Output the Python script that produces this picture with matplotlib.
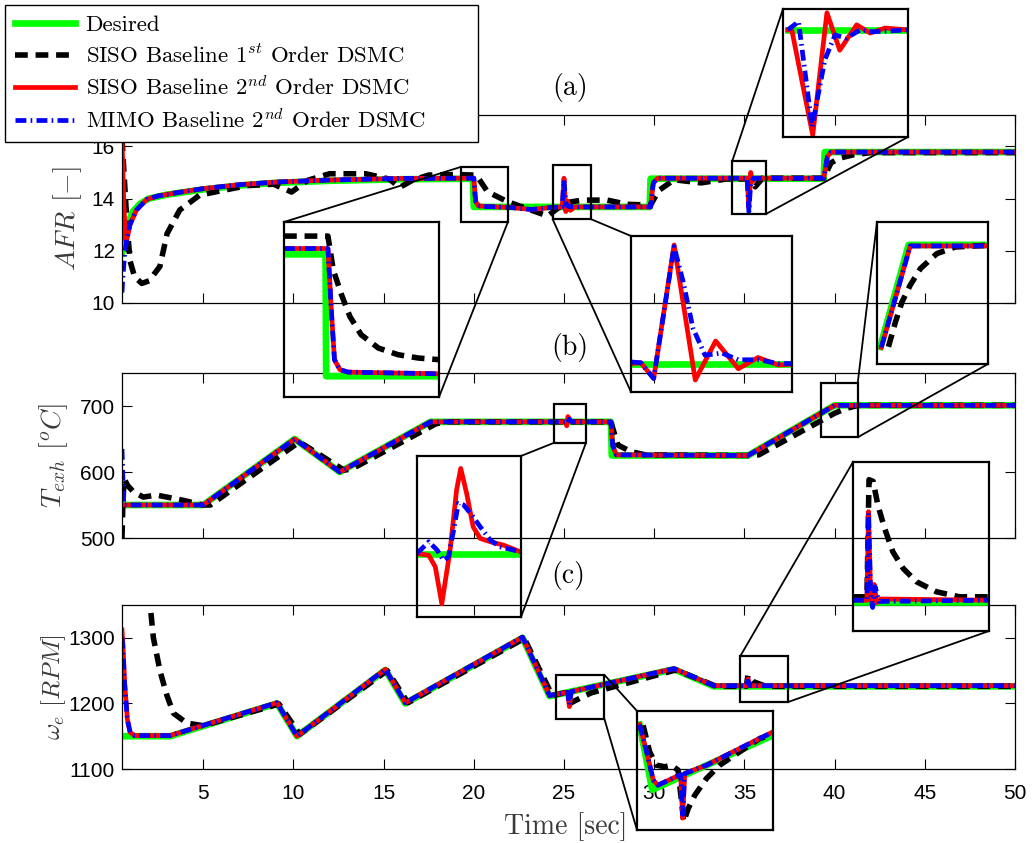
import numpy as np
import matplotlib
matplotlib.use("Agg")
from matplotlib import pyplot as plt
from matplotlib.patches import Rectangle, ConnectionPatch
from matplotlib.lines import Line2D

plt.rcParams['mathtext.fontset'] = 'cm'
plt.rcParams['font.family'] = 'Liberation Sans'
plt.rcParams['axes.unicode_minus'] = False

W, H = 1034, 843

######### (a) AFR ############
t_a_des = [0.5, 0.6, 0.8, 1.1, 1.5, 2.0, 3.0, 5.0, 7.0, 9.0, 12.0, 16.0, 19.95, 20.0, 29.75, 29.8, 39.4, 39.45, 50.0]
afr_des = [11.9, 12.3, 13.0, 13.5, 13.8, 14.0, 14.15, 14.35, 14.5, 14.6, 14.68, 14.74, 14.76, 13.68, 13.68, 14.76, 14.76, 15.78, 15.78]

t_a_s1 = [0.5, 0.65, 0.8, 0.95, 1.2, 1.6, 2.0, 2.6, 3.0, 3.7, 4.8, 6.0, 7.5, 8.9, 9.9, 10.8, 12.0, 14.0, 15.3, 15.9,
          16.6, 17.5, 19.0, 20.0, 20.2, 20.76, 21.87, 23.17, 24.1, 24.6, 25.2, 26.0, 27.4, 28.5, 29.8, 30.0, 30.3, 31.1, 32.6, 34.0,
          35.4, 35.6, 36.0, 39.4, 39.8, 40.3, 41.0, 42.0, 50.0]
afr_s1 = [16.3, 14.5, 12.8, 11.6, 11.0, 10.75, 10.85, 11.4, 12.66, 13.56, 14.13, 14.3, 14.5, 14.55, 14.25, 14.7, 14.95, 14.95, 14.75, 14.43,
          14.7, 14.9, 14.92, 14.9, 14.84, 14.26, 13.88, 13.56, 13.33, 13.6, 13.85, 13.94, 13.94, 13.78, 13.75, 14.0, 14.33, 14.72, 14.6, 14.75,
          14.75, 14.45, 14.78, 14.78, 15.37, 15.55, 15.67, 15.76, 15.76]

t_a_s2 = [0.5, 0.52, 0.6, 0.7, 0.76, 0.94, 1.3, 1.87, 2.5, 3.5, 5.0, 7.0, 9.0, 12.0, 16.0, 20.0, 20.1, 20.25, 20.6, 22.0,
          23.2, 24.3, 24.9, 25.0, 25.1, 25.2, 25.35, 25.6, 29.8, 29.95, 30.2, 35.15, 35.25, 35.35, 35.45, 35.6, 39.4, 39.6, 39.8, 50.0]
afr_s2 = [16.2, 15.8, 13.8, 12.4, 12.4, 13.0, 13.56, 13.97, 14.1, 14.22, 14.38, 14.53, 14.63, 14.71, 14.77, 14.78, 13.9, 13.72, 13.7, 13.66,
          13.58, 13.66, 13.68, 14.78, 13.5, 13.9, 13.55, 13.68, 13.68, 14.6, 14.78, 14.78, 13.65, 15.0, 14.65, 14.78, 14.78, 15.6, 15.78, 15.78]

t_a_mimo = [0.5, 0.55, 0.65, 0.76, 0.94, 1.3, 1.87, 2.5, 3.5, 5.0, 7.0, 9.0, 12.0, 16.0, 20.0, 20.1, 20.25, 20.6, 22.0, 23.2,
            24.3, 24.9, 25.0, 25.1, 25.25, 25.6, 29.8, 29.95, 30.2, 35.15, 35.25, 35.35, 35.5, 39.4, 39.6, 39.8, 50.0]
afr_mimo = [10.4, 11.0, 11.9, 12.4, 13.0, 13.56, 13.97, 14.1, 14.22, 14.38, 14.53, 14.63, 14.71, 14.77, 14.78, 13.9, 13.72, 13.7, 13.66, 13.58,
            13.66, 13.68, 14.7, 13.8, 13.7, 13.68, 13.68, 14.6, 14.78, 14.78, 13.5, 14.6, 14.78, 14.78, 15.6, 15.78, 15.78]

######### (b) T_exh ############
t_b_des = [0.5, 5.0, 10.07, 12.57, 17.6, 27.6, 27.65, 35.2, 40.0, 50.0]
texh_des = [550, 550, 650, 600, 676, 676, 625, 625, 701, 701]

t_b_s1 = [0.5, 0.55, 0.62, 0.8, 1.13, 1.68, 2.42, 2.98, 3.9, 5.0, 5.4, 10.3, 10.6, 12.8, 13.2, 17.9, 18.4, 27.6, 27.98, 28.7,
          29.5, 35.3, 35.8, 40.0, 40.6, 41.3, 50.0]
texh_s1 = [500, 555, 590, 580, 570, 562, 565, 562, 557, 550, 550, 645, 641, 603, 604, 673, 676, 676, 641, 631,
           626, 625, 626, 689, 696, 701, 701]

t_b_s2 = [0.5, 5.0, 10.07, 12.57, 17.6, 25.1, 25.15, 25.22, 25.4, 27.6, 27.7, 27.9, 35.2, 40.0, 50.0]
texh_s2 = [550, 550, 650, 600, 676, 676, 670, 684, 676, 676, 640, 626, 625, 701, 701]

t_b_mimo = [0.5, 0.55, 0.6, 5.0, 10.07, 12.57, 17.6, 25.1, 25.2, 25.3, 25.45, 27.6, 27.7, 27.9, 35.2, 40.0, 50.0]
texh_mimo = [635, 590, 550, 550, 650, 600, 676, 676, 674, 680, 676, 676, 640, 626, 625, 701, 701]

######### (c) engine speed ############
t_c_des = [0.5, 3.17, 9.09, 10.2, 15.1, 16.2, 22.7, 24.2, 31.1, 33.3, 50.0]
w_des = [1150, 1150, 1200, 1150, 1251, 1200, 1300, 1211, 1252, 1226, 1226]

t_c_s1 = [0.5, 1.0, 1.5, 2.06, 2.24, 2.61, 2.98, 3.35, 4.09, 5.0, 9.2, 10.35, 15.2, 16.35, 22.8, 24.35, 25.0, 25.35, 25.6, 25.9,
          26.5, 31.2, 33.45, 35.1, 35.2, 35.5, 36.2, 50.0]
w_s1 = [1900, 1650, 1480, 1350, 1300, 1249, 1213, 1185, 1170, 1166, 1199, 1153, 1250, 1201, 1299, 1212, 1216, 1200, 1204, 1208,
        1216, 1251, 1226, 1226, 1243, 1233, 1226, 1226]

t_c_s2 = [0.5, 0.55, 0.65, 0.8, 0.95, 1.2, 3.17, 9.09, 10.2, 15.1, 16.2, 22.7, 24.2, 25.2, 25.3, 25.4, 31.1, 33.3, 35.1, 35.2, 35.3, 50.0]
w_s2 = [1312, 1290, 1230, 1175, 1156, 1151, 1151, 1201, 1150, 1252, 1201, 1301, 1212, 1217, 1195, 1218, 1253, 1227, 1227, 1237, 1227, 1227]

t_c_mimo = [0.5, 0.55, 0.65, 0.8, 0.95, 1.2, 3.17, 9.09, 10.2, 15.1, 16.2, 22.7, 24.2, 25.2, 25.3, 25.4, 31.1, 33.3, 35.1, 35.2, 35.3, 50.0]
w_mimo = [1300, 1285, 1228, 1175, 1156, 1151, 1151, 1201, 1150, 1252, 1201, 1301, 1212, 1217, 1198, 1218, 1253, 1227, 1227, 1234, 1227, 1227]

######### zoomed views ############
# A1: AFR step down near 20 s
a1_t_des = [19.28, 19.98, 19.99, 21.89]
a1_des = [14.82, 14.82, 13.35, 13.35]
a1_t_s1 = [19.28, 20.02, 20.11, 20.25, 20.39, 20.58, 20.87, 21.20, 21.54, 21.89]
a1_s1 = [15.04, 15.04, 14.63, 14.33, 14.07, 13.85, 13.69, 13.61, 13.57, 13.55]
a1_t_s2 = [19.28, 20.02, 20.08, 20.13, 20.22, 20.36, 21.89]
a1_s2 = [14.89, 14.89, 14.11, 13.55, 13.43, 13.40, 13.38]

# A2: AFR at 25 s
a2_t_des = [24.37, 26.5]
a2_des = [13.59, 13.59]
a2_t_s2 = [24.38, 24.5, 24.67, 24.94, 25.22, 25.49, 25.79, 26.05, 26.32, 26.5]
a2_s2 = [13.59, 13.6, 13.39, 15.17, 13.37, 13.89, 13.52, 13.67, 13.57, 13.58]
a2_t_mimo = [24.38, 24.5, 24.67, 24.94, 25.06, 25.19, 25.35, 25.57, 25.79, 26.05, 26.32, 26.5]
a2_mimo = [13.61, 13.6, 13.39, 15.15, 14.68, 14.06, 13.70, 13.73, 13.64, 13.64, 13.59, 13.59]

# A3: AFR at 35 s
a3_t_des = [34.39, 36.17]
a3_des = [15.09, 15.09]
a3_t_s2 = [34.39, 34.45, 34.76, 34.97, 35.16, 35.41, 35.61, 35.83, 36.17]
a3_s2 = [15.09, 15.09, 13.43, 15.36, 14.77, 15.17, 15.04, 15.12, 15.09]
a3_t_mimo = [34.39, 34.55, 34.75, 34.94, 35.09, 35.26, 35.46, 35.65, 36.17]
a3_mimo = [15.09, 15.22, 13.56, 14.62, 15.01, 14.96, 15.09, 15.06, 15.09]

# A4: T_exh ramp end at 40 s
a4_t_des = [39.30, 39.82, 41.28]
a4_des = [662.5, 721.2, 721.2]
a4_t_s1 = [39.45, 39.58, 39.70, 39.85, 40.04, 40.34, 40.68, 41.28]
a4_s1 = [662.5, 676.9, 688.4, 698.0, 707.6, 716.2, 720.0, 721.0]
a4_t_s2 = [39.32, 39.85, 41.28]
a4_s2 = [662.2, 720.6, 720.6]

# B1: T_exh at 25 s
b1_t_des = [24.46, 26.22]
b1_des = [667.1, 667.1]
b1_t_s2 = [24.46, 24.66, 24.77, 24.88, 25.02, 25.13, 25.20, 25.30, 25.41, 25.53, 25.70, 25.92, 26.22]
b1_s2 = [667.4, 666.7, 662.5, 649.2, 668.6, 690.3, 698.1, 689.1, 677.0, 672.8, 671.6, 670.4, 667.9]
b1_t_mimo = [24.46, 24.66, 24.80, 24.91, 24.99, 25.08, 25.16, 25.25, 25.39, 25.53, 25.70, 25.86, 26.22]
b1_mimo = [667.4, 671.6, 668.6, 664.9, 666.1, 675.8, 685.5, 684.9, 681.2, 677.0, 672.2, 669.8, 667.9]

# B2: speed at 35 s
b2_t_des = [34.76, 37.39]
b2_des = [1213.8, 1213.8]
b2_t_s1 = [34.76, 34.95, 35.03, 35.07, 35.15, 35.24, 35.37, 35.53, 35.73, 35.99, 36.37, 36.82, 37.39]
b2_s1 = [1215.9, 1215.9, 1216.0, 1264.2, 1263.5, 1253.8, 1244.2, 1234.5, 1227.6, 1222.1, 1218.0, 1215.9, 1215.9]
b2_t_s2 = [34.76, 35.03, 35.06, 35.10, 35.13, 35.17, 35.22, 35.30, 37.39]
b2_s2 = [1214.5, 1214.5, 1251.0, 1217.0, 1212.4, 1221.0, 1213.5, 1215.0, 1214.5]
b2_t_mimo = [34.76, 35.03, 35.06, 35.10, 35.14, 35.19, 35.26, 37.39]
b2_mimo = [1214.5, 1214.5, 1250.4, 1218.0, 1211.5, 1220.0, 1214.0, 1214.5]

# C1: speed at 25 s
c1_t_des = [24.61, 24.86, 27.24]
c1_des = [1235.8, 1199.0, 1229.8]
c1_t_s1 = [24.68, 24.81, 24.94, 25.11, 25.24, 25.37, 25.48, 25.57, 25.70, 25.93, 26.19, 26.58, 26.98, 27.24]
c1_s1 = [1235.4, 1220.4, 1212.9, 1212.0, 1212.9, 1210.1, 1181.0, 1188.5, 1196.0, 1205.4, 1212.9, 1220.4, 1228.0, 1230.2]
c1_t_s2 = [24.61, 24.75, 24.88, 24.97, 25.42, 25.46, 25.50, 25.93, 26.58, 27.24]
c1_s2 = [1235.8, 1220.4, 1204.5, 1201.6, 1207.6, 1183.0, 1208.2, 1212.9, 1222.3, 1231.7]
c1_t_mimo = [24.61, 24.75, 24.88, 24.97, 25.42, 25.46, 25.50, 25.93, 26.58, 27.24]
c1_mimo = [1235.8, 1220.4, 1204.5, 1201.6, 1207.6, 1185.0, 1208.2, 1212.9, 1222.3, 1231.7]

labels = ["Desired", r"SISO Baseline 1$^{st}$ Order DSMC",
          r"SISO Baseline 2$^{nd}$ Order DSMC", r"MIMO Baseline 2$^{nd}$ Order DSMC"]

# line styles
st_des = dict(color=(0, 1, 0), lw=4.8)
st_s1 = dict(color="k", lw=4.0, ls=(0, (2.3, 1.4)))
st_s2 = dict(color=(1, 0, 0), lw=3.4)
st_mimo = dict(color=(0, 0, 1), lw=3.4, ls=(0, (2.3, 0.9, 0.35, 0.9)))

CM = "cmr10"
LABCOL = "#3a3a3a"


def px_box(x0, y0, x1, y1):
    return [x0 / W, 1 - y1 / H, (x1 - x0) / W, (y1 - y0) / H]


def curves(ax, des=None, s1=None, s2=None, mimo=None):
    if des is not None:
        ax.plot(des[0], des[1], **st_des)
    if s1 is not None:
        ax.plot(s1[0], s1[1], **st_s1)
    if s2 is not None:
        ax.plot(s2[0], s2[1], **st_s2)
    if mimo is not None:
        ax.plot(mimo[0], mimo[1], **st_mimo)


fig = plt.figure(figsize=(W / 100., H / 100.), dpi=100, facecolor="w")

ax_a = fig.add_axes(px_box(122, 115, 1015, 303))
ax_b = fig.add_axes(px_box(122, 373, 1015, 538))
ax_c = fig.add_axes(px_box(122, 605, 1015, 769))

curves(ax_a, (t_a_des, afr_des), (t_a_s1, afr_s1), (t_a_s2, afr_s2), (t_a_mimo, afr_mimo))
curves(ax_b, (t_b_des, texh_des), (t_b_s1, texh_s1), (t_b_s2, texh_s2), (t_b_mimo, texh_mimo))
curves(ax_c, (t_c_des, w_des), (t_c_s1, w_s1), (t_c_s2, w_s2), (t_c_mimo, w_mimo))

ax_a.set_ylim(10, 17.2)
ax_a.set_yticks([10, 12, 14, 16])
ax_b.set_ylim(500, 750)
ax_b.set_yticks([500, 600, 700])
ax_c.set_ylim(1100, 1350)
ax_c.set_yticks([1100, 1200, 1300])

for ax in (ax_a, ax_b, ax_c):
    ax.set_xlim(0.5, 50)
    ax.set_xticks(np.arange(5, 51, 5))
    ax.tick_params(direction="in", length=7, width=0.8, top=True, right=True, labelsize=15)
    ax.tick_params(axis="y", pad=5)
    ax.tick_params(axis="x", pad=11)
    for s in ax.spines.values():
        s.set_linewidth(0.9)
ax_a.set_xticklabels([])
ax_b.set_xticklabels([])

ax_a.set_ylabel(r"$AFR$ [$-$]", family=CM, size=20, color=LABCOL)
ax_b.set_ylabel(r"$T_{exh}$ [$^oC$]", family=CM, size=20, color=LABCOL)
ax_c.set_ylabel(r"$\omega_e$ [$RPM$]", family=CM, size=18, color=LABCOL)
for ax, xc, yc in ((ax_a, -0.061, 0.45), (ax_b, -0.077, 0.5), (ax_c, -0.077, 0.5)):
    ax.yaxis.label.set_verticalalignment("center")
    ax.yaxis.set_label_coords(xc, yc)
ax_c.set_xlabel("Time [sec]", family=CM, size=20, color=LABCOL)
ax_c.xaxis.label.set_verticalalignment("center")
ax_c.xaxis.set_label_coords(0.497, -0.35)

fig.text(570 / W, 1 - 88 / H, "(a)", family=CM, size=20, ha="center", va="center")
fig.text(570 / W, 1 - 347 / H, "(b)", family=CM, size=20, ha="center", va="center")
fig.text(568 / W, 1 - 576 / H, "(c)", family=CM, size=20, ha="center", va="center")

# zoom boxes: parent, inset box (px), x window, y window, data, connectors (inset corner, source corner)
zooms = [
    (ax_a, (284, 222, 439, 397), (19.28, 21.89), (13.10, 15.21),
     dict(des=(a1_t_des, a1_des), s1=(a1_t_s1, a1_s1), s2=(a1_t_s2, a1_s2), mimo=(a1_t_s2, a1_s2)),
     [("tl", "tl"), ("br", "br")]),
    (ax_a, (631, 236, 792, 392), (24.37, 26.5), (13.21, 15.29),
     dict(des=(a2_t_des, a2_des), s2=(a2_t_s2, a2_s2), mimo=(a2_t_mimo, a2_mimo)),
     [("tl", "br"), ("bl", "bl")]),
    (ax_a, (783, 9, 908, 137), (34.32, 36.17), (13.40, 15.42),
     dict(des=(a3_t_des, a3_des), s2=(a3_t_s2, a3_s2), mimo=(a3_t_mimo, a3_mimo)),
     [("tl", "tl"), ("br", "br")]),
    (ax_b, (877, 222, 988, 364), (39.24, 41.28), (652.6, 734.4),
     dict(des=(a4_t_des, a4_des), s1=(a4_t_s1, a4_s1), s2=(a4_t_s2, a4_s2), mimo=(a4_t_s2, a4_s2)),
     [("tl", "tr"), ("br", "br")]),
    (ax_b, (417, 456, 521, 617), (24.46, 26.22), (644.4, 702.6),
     dict(des=(b1_t_des, b1_des), s2=(b1_t_s2, b1_s2), mimo=(b1_t_mimo, b1_mimo)),
     [("tr", "bl"), ("br", "br")]),
    (ax_c, (853, 462, 989, 631), (34.76, 37.39), (1201.8, 1271.5),
     dict(des=(b2_t_des, b2_des), s1=(b2_t_s1, b2_s1), s2=(b2_t_s2, b2_s2), mimo=(b2_t_mimo, b2_mimo)),
     [("tl", "tl"), ("br", "br")]),
    (ax_c, (637, 711, 773, 830), (24.56, 27.24), (1176.3, 1243.5),
     dict(des=(c1_t_des, c1_des), s1=(c1_t_s1, c1_s1), s2=(c1_t_s2, c1_s2), mimo=(c1_t_mimo, c1_mimo)),
     [("tl", "tr"), ("bl", "br")]),
]

frac = {"tl": (0, 1), "tr": (1, 1), "bl": (0, 0), "br": (1, 0)}

for parent, box, xw, yw, data, links in zooms:
    ins = fig.add_axes(px_box(*box))
    ins.set_facecolor("none")
    curves(ins, **data)
    ins.set_xlim(*xw)
    ins.set_ylim(*yw)
    ins.set_xticks([])
    ins.set_yticks([])
    for s in ins.spines.values():
        s.set_linewidth(1.6)
    parent.add_patch(Rectangle((xw[0], yw[0]), xw[1] - xw[0], yw[1] - yw[0],
                               fill=False, ec="k", lw=1.6, zorder=6))
    for ci, cs in links:
        fx, fy = frac[cs]
        src = (xw[0] + fx * (xw[1] - xw[0]), yw[0] + fy * (yw[1] - yw[0]))
        con = ConnectionPatch(xyA=frac[ci], coordsA=ins.transAxes, xyB=src, coordsB=parent.transData,
                              color="k", lw=1.3)
        fig.add_artist(con)

handles = [Line2D([], [], **st_des), Line2D([], [], **st_s1),
           Line2D([], [], **st_s2), Line2D([], [], **st_mimo)]
leg = fig.legend(handles, labels, loc="upper left", mode="expand",
                 bbox_to_anchor=(5 / W, 1 - 143 / H, 473 / W, 138 / H),
                 bbox_transform=fig.transFigure, frameon=True, fancybox=False, framealpha=1,
                 edgecolor="k", prop=dict(family=CM, size=16.5), handlelength=2.65,
                 handletextpad=0.45, labelspacing=0.38, borderpad=0.42, borderaxespad=0)
leg.get_frame().set_linewidth(1.0)

plt.savefig("out.png", dpi=100, facecolor="w")
